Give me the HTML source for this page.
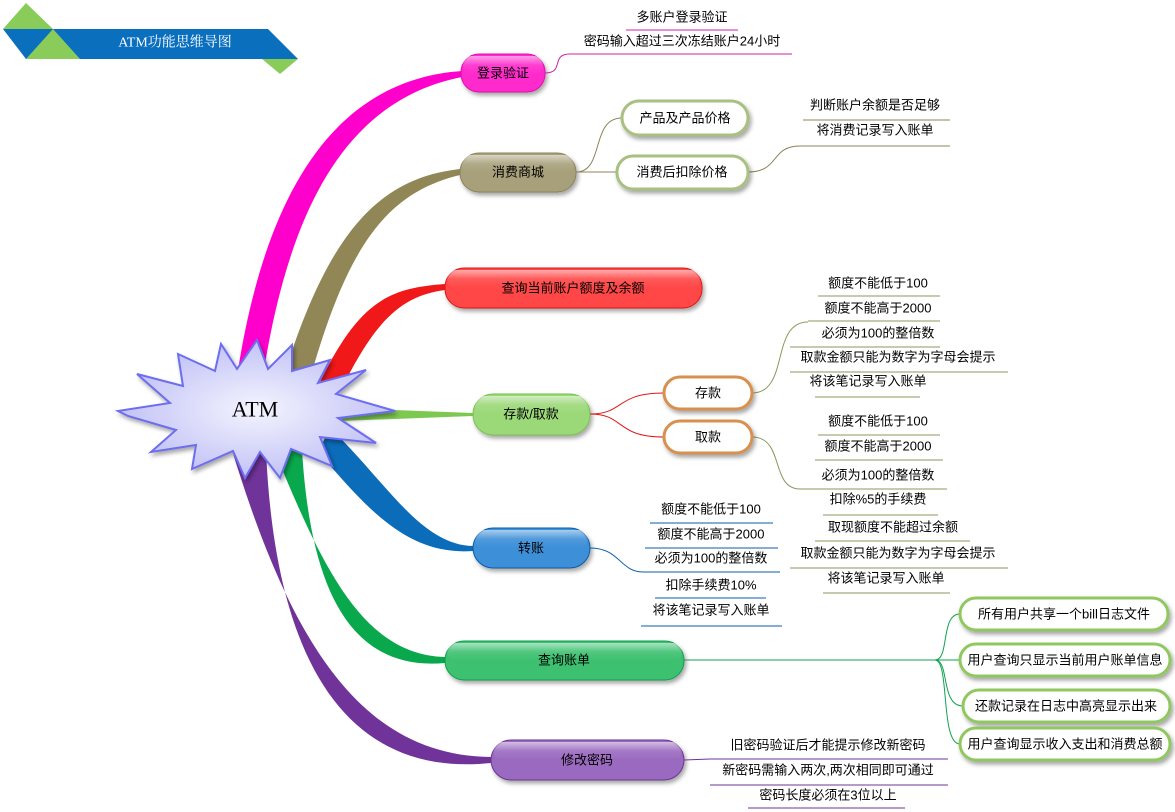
<!DOCTYPE html>
<html><head><meta charset="utf-8"><style>
html,body{margin:0;padding:0;background:#fff;}
svg{display:block;}
text{font-family:"Liberation Sans","Noto Sans CJK SC",sans-serif;font-size:13px;fill:#000;text-anchor:middle;dominant-baseline:central;}
</style></head><body>
<svg width="1175" height="812" viewBox="0 0 1175 812" xmlns="http://www.w3.org/2000/svg">
<defs>
<filter id="sh" x="-20%" y="-30%" width="140%" height="170%"><feDropShadow dx="2" dy="3" stdDeviation="2" flood-color="#000" flood-opacity="0.35"/></filter>
<linearGradient id="gl" x1="0" y1="0" x2="0" y2="1"><stop offset="0" stop-color="#fff" stop-opacity="0.55"/><stop offset="0.5" stop-color="#fff" stop-opacity="0.1"/><stop offset="1" stop-color="#fff" stop-opacity="0"/></linearGradient>
<radialGradient id="star" cx="0.5" cy="0.5" r="0.6"><stop offset="0" stop-color="#f4f4ff"/><stop offset="1" stop-color="#b8b8f4"/></radialGradient>
</defs>

<!-- title banner -->
<polygon points="3,29 268,29 298,59 26,59" fill="#0a6fbd"/>
<polygon points="3,29 26,3 53,29" fill="#8acc5a"/>
<polygon points="26,59 53,29 80,59" fill="#8acc5a"/>
<polygon points="262,59 298,59 280,74" fill="#8acc5a"/>
<text x="175" y="43" style="fill:#fff;font-family:'Liberation Serif','Noto Serif CJK SC',serif;font-size:14px">ATM功能思维导图</text>

<!-- branches -->
<path d="M238,370 C265,200 330,80 462,71 L462,77 C345,100 290,210 264,370 Z" fill="#ff00cc"/>
<path d="M285,372 C330,230 380,178 460,169 L460,175 C390,192 350,240 312,372 Z" fill="#918656"/>
<path d="M320,382 C360,300 390,288 445,284 L445,290 C400,296 375,322 342,388 Z" fill="#f01818"/>
<path d="M340,408 L473,413 L473,416 L340,421 Z" fill="#7cc850"/>
<path d="M330,428 C385,480 420,545 473,546 L473,551 C405,556 365,505 318,452 Z" fill="#0b6cba"/>
<path d="M274,450 C320,560 360,655 445,657 L445,663 C345,672 310,580 302,450 Z" fill="#0aa84c"/>
<path d="M232,450 C290,640 360,756 491,757 L491,763 C345,778 275,660 266,450 Z" fill="#703399"/>

<!-- star -->
<polygon filter="url(#sh)" fill="url(#star)" stroke="#6d6df0" stroke-width="2" points="
118,411 170,403 137,374 183,386 178,354 215,371 221,344 237,369 257,340 268,369 292,345 292,371 330,360 318,383 366,370 336,394 395,411 338,418 376,443 320,437 332,466 291,449 280,478 260,452 245,478 233,451 192,469 196,445 151,452 176,430 128,416"/>
<text x="255" y="409" style="font-family:'Liberation Serif',serif;font-size:22px">ATM</text>

<!-- main nodes -->
<g filter="url(#sh)">
<rect x="461" y="54" width="84" height="38" rx="18" fill="#ff2ccc" stroke="#e010b0"/>
<rect x="460" y="153" width="116" height="39" rx="19" fill="#a8a07a" stroke="#8d8458"/>
<rect x="445" y="268" width="257" height="40" rx="19" fill="#ff4646" stroke="#e01818"/>
<rect x="473" y="394" width="117" height="41" rx="20" fill="#9bd878" stroke="#7cc050"/>
<rect x="473" y="528" width="117" height="40" rx="20" fill="#3d8fd8" stroke="#0b5ca8"/>
<rect x="445" y="641" width="239" height="39" rx="19" fill="#3cc070" stroke="#10a050"/>
<rect x="491" y="740" width="193" height="40" rx="20" fill="#9a6ac0" stroke="#6c3494"/>
</g>
<g fill="url(#gl)">
<rect x="463" y="56" width="80" height="18" rx="9"/>
<rect x="462" y="155" width="112" height="18" rx="9"/>
<rect x="447" y="270" width="253" height="18" rx="9"/>
<rect x="475" y="396" width="113" height="18" rx="9"/>
<rect x="475" y="530" width="113" height="18" rx="9"/>
<rect x="447" y="643" width="235" height="18" rx="9"/>
<rect x="493" y="742" width="189" height="18" rx="9"/>
</g>
<text x="503" y="73">登录验证</text>
<text x="518" y="172">消费商城</text>
<text x="573" y="288">查询当前账户额度及余额</text>
<text x="531" y="414">存款/取款</text>
<text x="531" y="548">转账</text>
<text x="564" y="660">查询账单</text>
<text x="587" y="760">修改密码</text>

<!-- connectors -->
<g fill="none" stroke-width="1">
<path d="M545,73 C565,73 550,54 570,54 L792,54" stroke="#d020a8"/>
<line x1="626" y1="30" x2="738" y2="30" stroke="#d020a8"/>
<path d="M576,172 C605,172 590,118 622,118" stroke="#8d8458"/>
<path d="M576,172 L617,172" stroke="#8d8458"/>
<path d="M748,172 C780,172 770,146 800,146 L950,146" stroke="#8d8458"/>
<line x1="803" y1="120" x2="950" y2="120" stroke="#8d8458"/>
<path d="M590,414 C625,414 615,393 664,393" stroke="#e01818"/>
<path d="M590,414 C625,414 615,437 664,437" stroke="#e01818"/>
<path d="M752,393 C790,393 770,322 808,322" stroke="#8a9a60"/>
<path d="M752,437 C785,437 770,489 800,489" stroke="#8a9a60"/>
<path d="M590,548 C620,548 620,572 643,572" stroke="#0b5ca8"/>
<path d="M684,660 L935,660 C950,660 940,614 960,614" stroke="#10a050"/>
<path d="M935,660 L960,660" stroke="#10a050"/>
<path d="M935,660 C950,660 940,706 963,706" stroke="#10a050"/>
<path d="M935,660 C950,660 940,744 960,744" stroke="#10a050"/>
<path d="M684,760 L710,759" stroke="#6c3494"/>
</g>

<!-- leaves -->
<g stroke-width="1">
<text x="682" y="17">多账户登录验证</text>
<text x="682" y="41">密码输入超过三次冻结账户24小时</text>
<text x="875" y="105">判断账户余额是否足够</text>
<text x="875" y="130">将消费记录写入账单</text>

<g stroke="#8a9a60">
<line x1="818" y1="296" x2="940" y2="296"/><line x1="808" y1="321" x2="940" y2="321"/>
<line x1="790" y1="347" x2="940" y2="347"/><line x1="790" y1="372" x2="1008" y2="372"/>
<line x1="815" y1="397" x2="920" y2="397"/>
<line x1="818" y1="435" x2="940" y2="435"/><line x1="815" y1="460" x2="943" y2="460"/>
<line x1="800" y1="489" x2="947" y2="489"/><line x1="823" y1="515" x2="938" y2="515"/>
<line x1="815" y1="541" x2="970" y2="541"/><line x1="790" y1="568" x2="1008" y2="568"/>
<line x1="823" y1="593" x2="950" y2="593"/>
</g>
<text x="878" y="283">额度不能低于100</text>
<text x="878" y="308">额度不能高于2000</text>
<text x="878" y="333">必须为100的整倍数</text>
<text x="898" y="357">取款金额只能为数字为字母会提示</text>
<text x="868" y="381">将该笔记录写入账单</text>
<text x="878" y="421">额度不能低于100</text>
<text x="878" y="446">额度不能高于2000</text>
<text x="878" y="475">必须为100的整倍数</text>
<text x="878" y="499">扣除%5的手续费</text>
<text x="893" y="527">取现额度不能超过余额</text>
<text x="898" y="553">取款金额只能为数字为字母会提示</text>
<text x="886" y="578">将该笔记录写入账单</text>

<g stroke="#0b5ca8">
<line x1="650" y1="523" x2="773" y2="523"/><line x1="645" y1="548" x2="778" y2="548"/>
<line x1="643" y1="572" x2="780" y2="572"/><line x1="655" y1="598" x2="766" y2="598"/>
<line x1="641" y1="626" x2="782" y2="626"/>
</g>
<text x="711" y="509">额度不能低于100</text>
<text x="711" y="534">额度不能高于2000</text>
<text x="711" y="558">必须为100的整倍数</text>
<text x="711" y="585">扣除手续费10%</text>
<text x="711" y="610">将该笔记录写入账单</text>

<g stroke="#6c3494">
<line x1="710" y1="759" x2="948" y2="759"/><line x1="710" y1="785" x2="948" y2="785"/>
<line x1="748" y1="808" x2="905" y2="808"/>
</g>
<text x="828" y="745">旧密码验证后才能提示修改新密码</text>
<text x="828" y="770">新密码需输入两次,两次相同即可通过</text>
<text x="828" y="795">密码长度必须在3位以上</text>
</g>

<!-- sub nodes -->
<g filter="url(#sh)" fill="#fff" stroke-width="3">
<rect x="622" y="101" width="126" height="34" rx="17" stroke="#a8c080"/>
<rect x="617" y="156" width="131" height="33" rx="16" stroke="#a8c080"/>
<rect x="664" y="377" width="88" height="32" rx="16" stroke="#d89050"/>
<rect x="664" y="421" width="88" height="32" rx="16" stroke="#d89050"/>
<rect x="960" y="598" width="208" height="32" rx="16" stroke="#90c860"/>
<rect x="960" y="644" width="210" height="32" rx="16" stroke="#90c860"/>
<rect x="963" y="690" width="207" height="32" rx="16" stroke="#90c860"/>
<rect x="960" y="728" width="210" height="32" rx="16" stroke="#90c860"/>
</g>
<text x="685" y="118">产品及产品价格</text>
<text x="682" y="172">消费后扣除价格</text>
<text x="708" y="393">存款</text>
<text x="708" y="437">取款</text>
<text x="1064" y="614">所有用户共享一个bill日志文件</text>
<text x="1065" y="660">用户查询只显示当前用户账单信息</text>
<text x="1066" y="706">还款记录在日志中高亮显示出来</text>
<text x="1065" y="744">用户查询显示收入支出和消费总额</text>
</svg>
</body></html>
